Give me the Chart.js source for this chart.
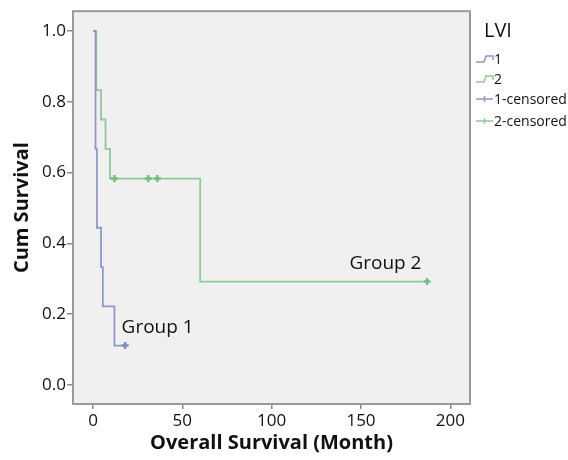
<!DOCTYPE html>
<html>
<head>
<meta charset="utf-8">
<script src="https://cdn.jsdelivr.net/npm/chart.js@4"></script>
<style>
  html, body { margin: 0; padding: 0; background: #ffffff; }
  #wrap { width: 568px; height: 460px; position: relative; }
</style>
</head>
<body>
<div id="wrap"><canvas id="km"></canvas></div>
<script>
// Kaplan-Meier steps (month, cum survival after the event)
const group1Times    = [0, 1.4, 2.2, 4.5, 5.5, 12, 18];
const group1Survival = [1.0, 0.667, 0.444, 0.333, 0.222, 0.111, 0.111];
const group2Times    = [0, 1.8, 4.5, 7, 9.5, 60, 187];
const group2Survival = [1.0, 0.833, 0.75, 0.667, 0.583, 0.292, 0.292];

// censored cases
const group1CensorTimes    = [18];
const group1CensorSurvival = [0.111];
const group2CensorTimes    = [12, 31, 36, 187];
const group2CensorSurvival = [0.583, 0.583, 0.583, 0.292];

const xTicks = [0, 50, 100, 150, 200];
const yTicks = [0.0, 0.2, 0.4, 0.6, 0.8, 1.0];

const legendTitle  = 'LVI';
const legendLabels = ['1', '2', '1-censored', '2-censored'];

// curve annotations: [text, month, survival]
const groupNotes = [
  ['Group 1', 16, 0.163],
  ['Group 2', 143.5, 0.344],
];

const BLUE  = '#8e98c9';
const GREEN = '#8ccb96';
const FONT  = '"Open Sans", "Noto Sans", sans-serif';

const pts = (xs, ys) => xs.map((x, i) => ({ x, y: ys[i] }));

/* ── plot frame + background ─────────────────────── */
const framePlugin = {
  id: 'frame',
  beforeDatasetsDraw(chart) {
    const { ctx, chartArea: a } = chart;
    ctx.save();
    ctx.fillStyle = '#f0f0f0';
    ctx.fillRect(a.left, a.top, a.right - a.left, a.bottom - a.top);
    ctx.restore();
  },
  afterDraw(chart) {
    const { ctx, chartArea: a } = chart;
    ctx.save();
    ctx.strokeStyle = '#9a9a9a';
    ctx.lineWidth = 2;
    ctx.strokeRect(a.left, a.top, a.right - a.left, a.bottom - a.top);
    ctx.restore();
  },
};

/* ── group labels + legend ───────────────────────── */
const notesPlugin = {
  id: 'notes',
  afterDraw(chart) {
    const { ctx, scales: { x, y } } = chart;
    ctx.save();
    ctx.fillStyle = '#111';
    ctx.font = '19px ' + FONT;
    ctx.textAlign = 'left';
    ctx.textBaseline = 'middle';
    groupNotes.forEach(([txt, mx, sy]) => {
      ctx.fillText(txt, x.getPixelForValue(mx), y.getPixelForValue(sy));
    });

    // legend on the right
    const lx = chart.chartArea.right + 6;
    ctx.font = '20px ' + FONT;
    ctx.fillText(legendTitle, lx + 8, 31);

    ctx.font = '14px ' + FONT;
    const rows   = [59, 79, 99, 121];
    const colors = [BLUE, GREEN, BLUE, GREEN];
    legendLabels.forEach((lab, i) => {
      const cy = rows[i];
      ctx.strokeStyle = colors[i];
      ctx.lineWidth = 1.5;
      ctx.beginPath();
      if (i < 2) {
        ctx.moveTo(lx, cy + 3);
        ctx.lineTo(lx + 8, cy + 3);
        ctx.lineTo(lx + 10, cy - 3);
        ctx.lineTo(lx + 17, cy - 3);
        ctx.lineTo(lx + 17, cy + 1);
      } else {
        ctx.moveTo(lx, cy);
        ctx.lineTo(lx + 17, cy);
        ctx.moveTo(lx + 8.5, cy - 3);
        ctx.lineTo(lx + 8.5, cy + 3);
      }
      ctx.stroke();
      ctx.fillStyle = '#111';
      ctx.fillText(lab, lx + 18, cy + 1);
    });
    ctx.restore();
  },
};

const lineSet = (data, color) => ({
  type: 'line',
  data,
  borderColor: color,
  borderWidth: 1.8,
  stepped: true,
  pointRadius: 0,
  fill: false,
  order: 2,
});

const censorSet = (data, color) => ({
  type: 'scatter',
  data,
  borderColor: color,
  backgroundColor: color,
  pointStyle: 'cross',
  pointRadius: 3.5,
  borderWidth: 2.5,
  order: 1,
});

new Chart(document.getElementById('km'), {
  data: {
    datasets: [
      lineSet(pts(group1Times, group1Survival), BLUE),
      lineSet(pts(group2Times, group2Survival), GREEN),
      censorSet(pts(group1CensorTimes, group1CensorSurvival), '#7f8bc4'),
      censorSet(pts(group2CensorTimes, group2CensorSurvival), '#6fbf7f'),
    ],
  },
  options: {
    responsive: true,
    maintainAspectRatio: false,
    animation: false,
    layout: { padding: { left: 0, right: 98, top: 10, bottom: 0 } },
    plugins: {
      legend:  { display: false },
      tooltip: { enabled: false },
    },
    scales: {
      x: {
        type: 'linear',
        min: -11.2,
        max: 211,
        afterBuildTicks: s => { s.ticks = xTicks.map(v => ({ value: v })); },
        afterFit: s => { s.height = 56; },
        border: { display: false },
        grid: { drawOnChartArea: false, drawTicks: true, tickLength: 5, color: '#8a8a8a', lineWidth: 1.5 },
        ticks: { color: '#111', padding: 2, font: { family: FONT, size: 17 } },
        title: {
          display: true,
          text: 'Overall Survival (Month)',
          color: '#111',
          padding: { top: 0, bottom: 5 },
          font: { family: FONT, size: 20, weight: 'bold' },
        },
      },
      y: {
        type: 'linear',
        min: -0.054,
        max: 1.056,
        afterBuildTicks: s => { s.ticks = yTicks.map(v => ({ value: v })); },
        afterFit: s => { s.width = 73; },
        border: { display: false },
        grid: { drawOnChartArea: false, drawTicks: true, tickLength: 6, color: '#8a8a8a', lineWidth: 1.5 },
        ticks: {
          color: '#111',
          padding: 1,
          font: { family: FONT, size: 17 },
          callback: v => Number(v).toFixed(1),
        },
        title: {
          display: true,
          text: 'Cum Survival',
          color: '#111',
          padding: { top: 10, bottom: 0 },
          font: { family: FONT, size: 20, weight: 'bold' },
        },
      },
    },
  },
  plugins: [framePlugin, notesPlugin],
});
</script>
</body>
</html>
